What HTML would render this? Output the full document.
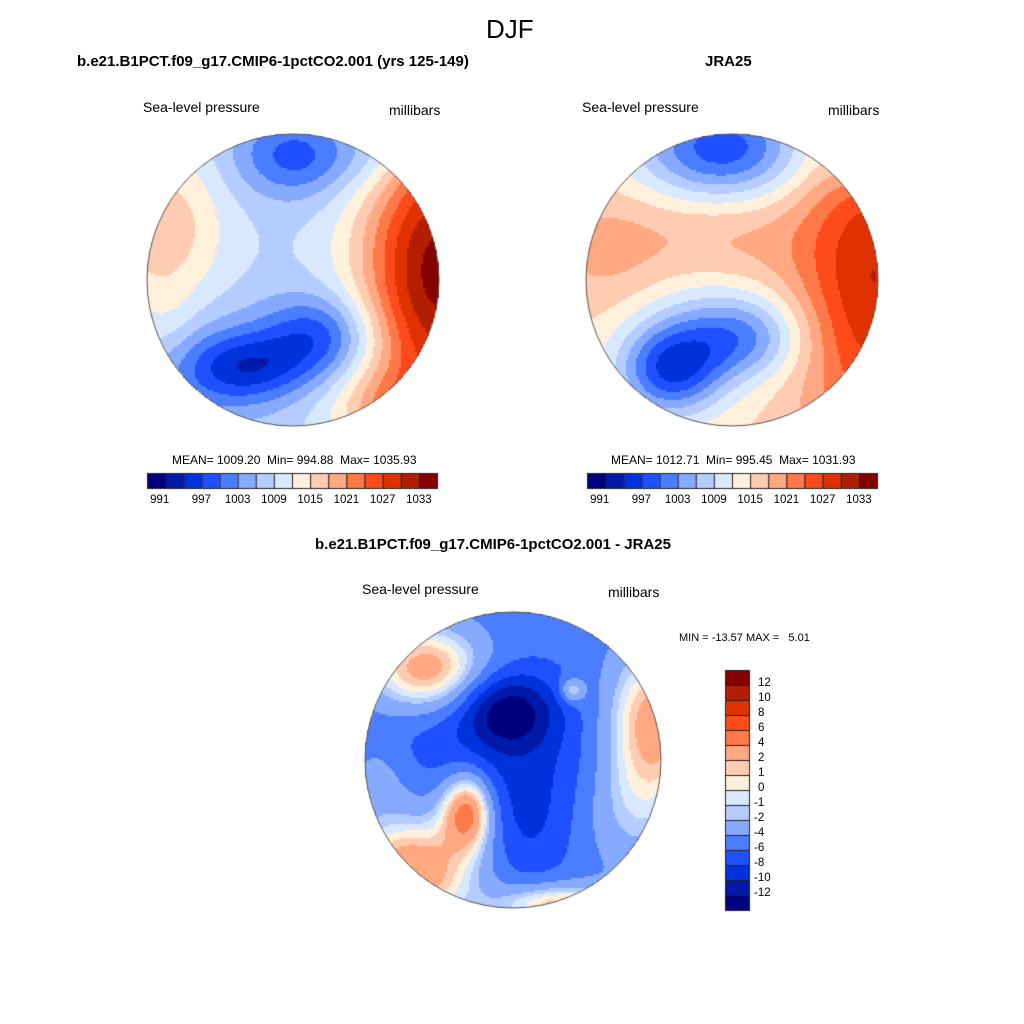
<!DOCTYPE html>
<html><head><meta charset="utf-8">
<style>
body{margin:0;background:#fff;width:1024px;height:1024px;position:relative;overflow:hidden;font-family:"Liberation Sans",sans-serif;color:#000}
.t{position:absolute;white-space:nowrap}
canvas{position:absolute;left:0;top:0}
</style></head><body>
<canvas id="cv" width="1024" height="1024"></canvas>
<div class="t" style="left:486px;top:14px;font-size:26px">DJF</div>
<div class="t" style="left:77px;top:53px;font-size:15px;font-weight:bold">b.e21.B1PCT.f09_g17.CMIP6-1pctCO2.001 (yrs 125-149)</div>
<div class="t" style="left:705px;top:53px;font-size:15px;font-weight:bold">JRA25</div>
<div class="t" style="left:143px;top:99px;font-size:14px">Sea-level pressure</div>
<div class="t" style="left:389px;top:102px;font-size:14px">millibars</div>
<div class="t" style="left:582px;top:99px;font-size:14px">Sea-level pressure</div>
<div class="t" style="left:828px;top:102px;font-size:14px">millibars</div>
<div class="t" style="left:172px;top:453px;font-size:12px">MEAN= 1009.20&nbsp; Min= 994.88&nbsp; Max= 1035.93</div>
<div class="t" style="left:611px;top:453px;font-size:12px">MEAN= 1012.71&nbsp; Min= 995.45&nbsp; Max= 1031.93</div>
<div class="t" style="left:315px;top:536px;font-size:15px;font-weight:bold">b.e21.B1PCT.f09_g17.CMIP6-1pctCO2.001 - JRA25</div>
<div class="t" style="left:362px;top:581px;font-size:14px">Sea-level pressure</div>
<div class="t" style="left:608px;top:584px;font-size:14px">millibars</div>
<div class="t" style="left:679px;top:632px;font-size:11px">MIN = -13.57 MAX =&nbsp;&nbsp; 5.01</div>
<div id="labels"></div>
<script>
const colors=["#00007f","#0019a8","#0032dc","#1e50ff","#4a7dff","#86aaff","#b4ccff","#d8e8ff","#fff0dc","#ffccb2","#ffa882","#ff7848","#ff4a1a","#e03200","#b41e00","#870000"];
const fullLevels=[991,994,997,1000,1003,1006,1009,1012,1015,1018,1021,1024,1027,1030,1033];
const fullTicks=["991","997","1003","1009","1015","1021","1027","1033"];
const diffLevels=[-12,-10,-8,-6,-4,-2,-1,0,1,2,4,6,8,10,12];
const diffTicks=["12","10","8","6","4","2","1","0","-1","-2","-4","-6","-8","-10","-12"];
// blobs: [u, v, amplitude, sx, sy]
const modelBase=1008.3;
const modelBlobs=[[0.03,-0.85,-10,0.3,0.2],[-0.3,0.6,-11,0.3,0.17],[0.18,0.38,-11,0.28,0.2],[1.0,-0.05,26,0.38,0.75],[-0.9,-0.35,9,0.3,0.4],[-0.6,0.6,-4,0.3,0.3],[0.7,0.9,8,0.3,0.2],[0.6,-0.9,-4,0.2,0.2],[-0.85,0.3,2,0.15,0.2]];
const obsBase=1015;
const obsBlobs=[[-0.06,-0.9,-17,0.42,0.25],[-0.42,0.62,-17,0.25,0.22],[0.08,0.4,-11,0.3,0.2],[0.97,0.0,15,0.38,0.8],[-0.08,-0.27,4,0.4,0.25],[-0.2,0.25,-4,0.4,0.3],[-0.85,-0.2,4,0.3,0.3],[0.85,-0.85,-6,0.15,0.15]];
const diffBase=-5;
const diffBlobs=[[-0.04,-0.33,-7,0.22,0.18],[0.1,0.0,-3,0.35,0.4],[-0.58,-0.62,8,0.28,0.2],[0.95,-0.26,8,0.22,0.35],[-0.31,0.35,10,0.12,0.18],[-0.68,0.75,9,0.3,0.25],[0.4,-0.47,5,0.06,0.06],[0.8,0.35,3,0.25,0.3],[0.1,0.5,-2,0.2,0.3],[0.3,0.98,7,0.3,0.1],[-0.9,0.1,2,0.15,0.2],[-0.6,-0.1,-1.5,0.3,0.2]];
const cv=document.getElementById('cv'),ctx=cv.getContext('2d');
function field(base,blobs,u,v){let s=base;for(const b of blobs){const du=(u-b[0])/b[3],dv=(v-b[1])/b[4];s+=b[2]*Math.exp(-(du*du+dv*dv)/2);}return s;}
function level(levels,val){let i=0;while(i<levels.length&&val>=levels[i])i++;return i;}
function drawMap(cx,cy,r,base,blobs,levels){
  for(let y=cy-r;y<cy+r;y+=2)for(let x=cx-r;x<cx+r;x+=2){
    const u=(x+1-cx)/r,v=(y+1-cy)/r;if(u*u+v*v>1)continue;
    ctx.fillStyle=colors[level(levels,field(base,blobs,u,v))];ctx.fillRect(x,y,2,2);}
  ctx.strokeStyle="#555";ctx.lineWidth=1;ctx.beginPath();ctx.arc(cx,cy,r,0,Math.PI*2);ctx.stroke();
}
drawMap(293,280,146,modelBase,modelBlobs,fullLevels);
drawMap(732,280,146,obsBase,obsBlobs,fullLevels);
drawMap(513,760,148,diffBase,diffBlobs,diffLevels);
const lab=document.getElementById('labels');
function addText(x,y,txt,name,size){const d=document.createElement('div');d.className='t';d.style.left=x+'px';d.style.top=y+'px';d.style.fontSize=(size||11)+'px';d.textContent=txt;


lab.appendChild(d);return d;}
function hbar(x0,y0,w,h){const n=colors.length,bw=w/n;
  colors.forEach((c,i)=>{ctx.fillStyle=c;ctx.fillRect(x0+i*bw,y0,bw,h);ctx.strokeStyle="#222";ctx.strokeRect(x0+i*bw+.5,y0+.5,bw,h);});
  fullTicks.forEach((t,k)=>{const bx=x0+(1+2*k)*bw-(k===0?bw*0.3:0);const d=addText(0,y0+h+6,t,'colorbar-tick',11.5);d.style.left=(bx-t.length*3.2)+'px';});}
hbar(147,473,290,15);hbar(587,473,290,15);
(function(){const x0=725,y0=670,w=24,n=colors.length,bh=240/n;
  for(let i=0;i<n;i++){ctx.fillStyle=colors[n-1-i];ctx.fillRect(x0,y0+i*bh,w,bh);ctx.strokeStyle="#222";ctx.strokeRect(x0+.5,y0+i*bh+.5,w,bh);}
  diffTicks.forEach((t,k)=>{const y=y0+(k+1)*bh;addText(t[0]==='-'?754:758,y-8,t,'diff-colorbar-tick',11.5);});})();
</script>
</body></html>
